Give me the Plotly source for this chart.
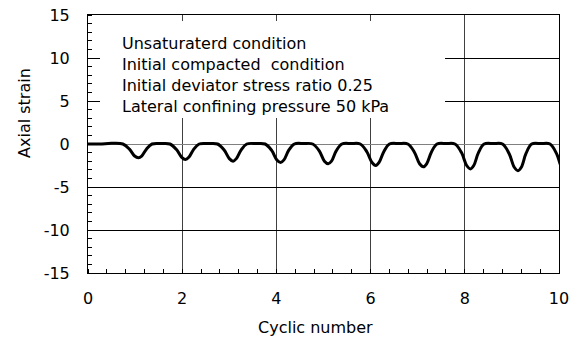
import plotly.graph_objects as go

# Cyclic number (x) and axial strain (y)
cycle = [0, 0.25, 0.5,
         0.74, 0.88, 0.99, 1.07, 1.14, 1.24, 1.36, 1.55,
         1.74, 1.88, 1.99, 2.07, 2.14, 2.24, 2.36, 2.56,
         2.75, 2.89, 3.00, 3.08, 3.15, 3.25, 3.37, 3.57,
         3.76, 3.90, 4.01, 4.09, 4.16, 4.26, 4.38, 4.58,
         4.77, 4.91, 5.02, 5.10, 5.17, 5.27, 5.39, 5.59,
         5.78, 5.92, 6.03, 6.11, 6.18, 6.28, 6.40, 6.60,
         6.79, 6.93, 7.04, 7.12, 7.19, 7.29, 7.41, 7.61,
         7.79, 7.93, 8.04, 8.12, 8.19, 8.29, 8.41, 8.61,
         8.80, 8.94, 9.05, 9.13, 9.20, 9.30, 9.42, 9.62,
         9.81, 9.95, 10.06, 10.14]
strain = [0, 0, 0.08,
          0, -0.6, -1.4, -1.6, -1.4, -0.6, 0, 0.05,
          0, -0.65, -1.55, -1.8, -1.55, -0.65, 0, 0.05,
          0, -0.7, -1.7, -2.0, -1.7, -0.7, 0, 0.05,
          0, -0.75, -1.85, -2.15, -1.85, -0.75, 0, 0.05,
          0, -0.8, -2.0, -2.3, -2.0, -0.8, 0, 0.05,
          0, -0.9, -2.15, -2.5, -2.15, -0.9, 0, 0.05,
          0, -0.95, -2.3, -2.65, -2.3, -0.95, 0, 0.05,
          0, -1.0, -2.5, -2.9, -2.5, -1.0, 0, 0.05,
          0, -1.1, -2.7, -3.1, -2.7, -1.1, 0, 0.05,
          0, -1.15, -2.8, -3.25]

x_ticks = [0, 2, 4, 6, 8, 10]
y_ticks = [-15, -10, -5, 0, 5, 10, 15]
notes = ["Unsaturaterd condition",
         "Initial compacted  condition",
         "Initial deviator stress ratio 0.25",
         "Lateral confining pressure 50 kPa"]

FONT = "DejaVu Sans"

fig = go.Figure()
fig.add_trace(go.Scatter(x=cycle, y=strain, mode="lines",
                         line=dict(color="black", width=3, shape="spline"),
                         showlegend=False, hoverinfo="skip"))

fig.update_layout(
    width=574, height=338,
    margin=dict(l=88, r=15, t=15, b=65),
    paper_bgcolor="white", plot_bgcolor="white",
    font=dict(family=FONT, size=16, color="black"),
    showlegend=False,
)

fig.update_xaxes(
    range=[0, 10], tickvals=x_ticks, ticktext=[str(v) for v in x_ticks],
    automargin=False,
    showgrid=True, gridcolor="#404040", gridwidth=1,
    zeroline=False, showline=True, linecolor="black", linewidth=1, mirror=True,
    ticks="", ticklabelstandoff=11,
    tickfont=dict(family=FONT, size=16, color="black"),
    minor=dict(dtick=0.4, tick0=0, ticks="inside", ticklen=4, tickcolor="black",
               tickwidth=1, showgrid=False),
)
fig.update_yaxes(
    range=[-15, 15], tickvals=y_ticks, ticktext=[str(v) for v in y_ticks],
    automargin=False,
    showgrid=True, gridcolor="black", gridwidth=1,
    zeroline=True, zerolinecolor="#808080", zerolinewidth=1,
    showline=True, linecolor="black", linewidth=1, mirror=True,
    ticks="", ticklabelstandoff=14,
    tickfont=dict(family=FONT, size=16, color="black"),
    minor=dict(dtick=1, tick0=0, ticks="inside", ticklen=4, tickcolor="black",
               tickwidth=1, showgrid=False),
)

# white background behind the note block
fig.add_shape(type="rect", xref="paper", yref="paper",
              x0=0.0255, x1=0.758, y0=0.601, y1=0.977,
              fillcolor="white", line=dict(width=0), layer="above")

note_y = [0.8895, 0.8081, 0.7267, 0.6453]
for txt, yy in zip(notes, note_y):
    fig.add_annotation(text=txt, xref="paper", yref="paper", x=0.0669, y=yy,
                       xanchor="left", yanchor="middle", showarrow=False,
                       font=dict(family=FONT, size=16, color="black"))

fig.add_annotation(text="Cyclic number", xref="paper", yref="paper",
                   x=0.482, y=-0.213, xanchor="center", yanchor="middle",
                   showarrow=False, font=dict(family=FONT, size=16, color="black"))
fig.add_annotation(text="Axial strain", xref="paper", yref="paper",
                   x=-0.136, y=0.620, xanchor="center", yanchor="middle",
                   textangle=-90, showarrow=False,
                   font=dict(family=FONT, size=16, color="black"))

fig.write_html("out.html")
